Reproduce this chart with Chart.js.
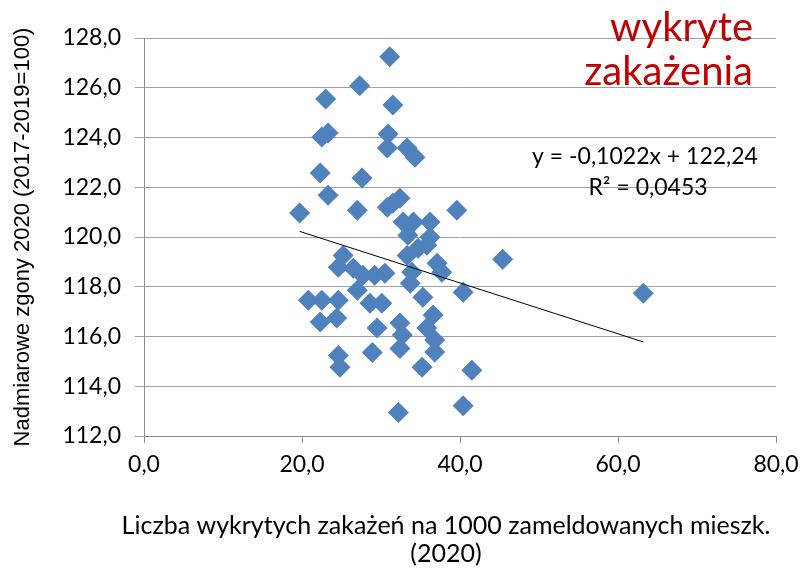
<!DOCTYPE html>
<html lang="pl">
<head>
<meta charset="utf-8">
<script src="https://cdn.jsdelivr.net/npm/chart.js@4.4.0/dist/chart.umd.min.js"></script>
<style>
  html, body { margin: 0; padding: 0; background: #fff; }
</style>
</head>
<body>
<canvas id="wykres" width="807" height="571"></canvas>
<script>
// Zakażenia na 1000 mieszk. (oś X) i nadmiarowe zgony 2020 (oś Y), po jednym punkcie na powiat
const zakazenia = [
  31.1, 27.3, 23.0, 31.5, 22.5, 23.3, 30.9, 30.8, 33.3, 34.3,
  22.3, 27.6, 23.3, 19.7, 27.0, 30.8, 31.5, 32.4, 39.6, 32.8,
  34.1, 36.2, 33.4, 36.2, 35.8, 34.7, 25.2, 33.3, 24.6, 26.5,
  37.1, 27.7, 29.2, 30.5, 33.9, 37.7, 45.4, 27.0, 33.7, 20.8,
  22.5, 24.6, 28.6, 30.1, 35.3, 40.4, 63.2, 22.3, 24.4, 29.5,
  32.4, 32.7, 36.6, 35.8, 36.8, 36.8, 32.4, 28.9, 24.6, 24.8,
  35.2, 41.5, 32.2, 40.4
];
const zgony = [
  127.25, 126.08, 125.55, 125.31, 124.02, 124.18, 124.14, 123.58, 123.58, 123.21,
  122.57, 122.37, 121.68, 120.96, 121.08, 121.20, 121.36, 121.56, 121.08, 120.60,
  120.60, 120.60, 120.07, 119.99, 119.67, 119.55, 119.26, 119.26, 118.78, 118.74,
  118.94, 118.46, 118.46, 118.54, 118.58, 118.58, 119.11, 117.86, 118.14, 117.46,
  117.46, 117.46, 117.34, 117.34, 117.58, 117.78, 117.74, 116.58, 116.74, 116.34,
  116.54, 116.06, 116.86, 116.34, 115.86, 115.38, 115.52, 115.36, 115.24, 114.76,
  114.76, 114.64, 112.94, 113.22
];

// linia trendu (regresja liniowa)
const nachylenie = -0.1022;
const wyrazWolny = 122.24;
const rownanie = 'y = -0,1022x + 122,24';
const r2 = 'R² = 0,0453';

const tytulX = ['Liczba wykrytych zakażeń na 1000 zameldowanych mieszk.', '(2020)'];
const tytulY = 'Nadmiarowe zgony 2020 (2017-2019=100)';
const naglowek = ['wykryte', 'zakażenia'];

const punkty = zakazenia.map((x, i) => ({ x: x, y: zgony[i] }));
const xMin = Math.min(...zakazenia);
const xMax = Math.max(...zakazenia);
const trend = [
  { x: xMin, y: wyrazWolny + nachylenie * xMin },
  { x: xMax, y: wyrazWolny + nachylenie * xMax }
];

const przecinek = v => v.toFixed(1).replace('.', ',');

// podpisy: tytuł osi X, równanie trendu, nagłówek
const napisy = {
  id: 'napisy',
  afterDraw(chart) {
    const ctx = chart.ctx;
    ctx.save();
    ctx.fillStyle = '#000';
    ctx.textAlign = 'center';
    ctx.textBaseline = 'middle';
    ctx.font = '25px Lato';
    ctx.fillText(tytulX[0], 446, 526);
    ctx.fillText(tytulX[1], 446, 554);
    ctx.font = '23px Lato';
    ctx.fillText(rownanie, 645, 157);
    ctx.fillText(r2, 648, 188);
    ctx.fillStyle = '#C00000';
    ctx.textAlign = 'right';
    ctx.font = '40px Lato';
    ctx.fillText(naglowek[0], 753, 28);
    ctx.fillText(naglowek[1], 753, 72);
    ctx.restore();
  }
};

const ctx = document.getElementById('wykres').getContext('2d');
new Chart(ctx, {
  type: 'scatter',
  data: {
    datasets: [
      {
        label: 'trend',
        type: 'line',
        data: trend,
        borderColor: '#000',
        borderWidth: 1,
        pointRadius: 0,
        fill: false,
        order: 0
      },
      {
        label: 'powiaty',
        data: punkty,
        pointStyle: 'rectRot',
        pointRadius: 10.5,
        pointBackgroundColor: '#4F81BD',
        pointBorderWidth: 0,
        order: 1
      }
    ]
  },
  options: {
    responsive: false,
    animation: false,
    layout: { padding: { top: 38, right: 31, bottom: 0, left: 0 } },
    plugins: {
      legend: { display: false },
      tooltip: { enabled: false }
    },
    scales: {
      x: {
        min: 0,
        max: 80,
        afterFit: s => { s.height = 135; },
        ticks: {
          stepSize: 20,
          padding: 8,
          color: '#000',
          font: { family: 'Lato', size: 23 },
          callback: przecinek
        },
        grid: { drawOnChartArea: false, drawTicks: true, tickLength: 7, color: '#8c8c8c' },
        border: { color: '#8c8c8c' }
      },
      y: {
        min: 112,
        max: 128,
        afterFit: s => { s.width = 144; },
        ticks: {
          stepSize: 2,
          padding: 14,
          color: '#000',
          font: { family: 'Lato', size: 23 },
          callback: przecinek
        },
        grid: { color: '#a0a0a0', tickLength: 9 },
        border: { color: '#8c8c8c' },
        title: {
          display: true,
          text: tytulY,
          color: '#000',
          font: { family: 'Liberation Sans', size: 22 },
          padding: { top: 10, bottom: 0 }
        }
      }
    }
  },
  plugins: [napisy]
});
</script>
</body>
</html>
